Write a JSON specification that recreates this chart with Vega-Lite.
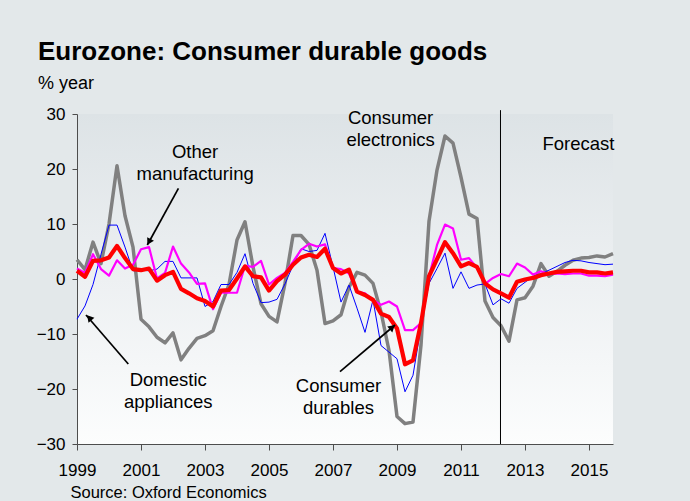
{
  "$schema": "https://vega.github.io/schema/vega-lite/v6.json",
  "width": 536,
  "height": 330,
  "autosize": {"type": "none"},
  "padding": {"left": 77, "top": 114, "right": 77, "bottom": 57},
  "background": "#e3e8ea",
  "config": {
    "view": {"stroke": null, "fill": {"gradient": "linear", "x1": 0, "y1": 0, "x2": 0, "y2": 1, "stops": [{"offset": 0, "color": "#dde3e6"}, {"offset": 0.5, "color": "#edf0f2"}, {"offset": 1, "color": "#fcfdfd"}]}},
    "font": "Liberation Sans",
    "axis": {"domainColor": "#4d4d4d", "tickColor": "#4d4d4d", "labelColor": "#000000", "labelFont": "Liberation Sans", "labelFontSize": 17, "grid": false, "domainWidth": 1, "tickWidth": 1, "labelOverlap": false, "labelFlush": false},
    "axisX": {"tickSize": 6, "labelPadding": 12, "titleFont": "Liberation Sans", "titleFontSize": 16.5, "titleFontWeight": "normal", "titleColor": "#000000", "titleAnchor": "start", "titleAlign": "left", "titleBaseline": "alphabetic", "titleX": -7, "titleY": 53},
    "axisY": {"tickSize": 5, "labelPadding": 7}
  },
  "title": {"text": "Eurozone: Consumer durable goods", "subtitle": "% year", "anchor": "start", "frame": "group", "dx": -39, "offset": 12, "font": "Liberation Sans", "fontSize": 26, "fontWeight": "bold", "color": "#000000", "subtitleFont": "Liberation Sans", "subtitleFontSize": 18, "subtitleColor": "#000000", "subtitlePadding": 10},
  "datasets": {
    "series": [
      {"t": 1999.00, "ce": 3.5, "da": -7.3, "om": 1.9, "cd": 1.5},
      {"t": 1999.25, "ce": 1.7, "da": -4.9, "om": 1.1, "cd": 0.4},
      {"t": 1999.50, "ce": 6.7, "da": -1.0, "om": 4.5, "cd": 3.3},
      {"t": 1999.75, "ce": 2.8, "da": 4.5, "om": 1.8, "cd": 3.4},
      {"t": 2000.00, "ce": 10.0, "da": 9.8, "om": 0.6, "cd": 3.9},
      {"t": 2000.25, "ce": 20.6, "da": 9.8, "om": 3.4, "cd": 6.0},
      {"t": 2000.50, "ce": 11.5, "da": 5.8, "om": 1.9, "cd": 3.8},
      {"t": 2000.75, "ce": 5.8, "da": 1.5, "om": 2.6, "cd": 1.8},
      {"t": 2001.00, "ce": -7.3, "da": 1.6, "om": 5.4, "cd": 1.6},
      {"t": 2001.25, "ce": -8.7, "da": 1.5, "om": 5.8, "cd": 1.9},
      {"t": 2001.50, "ce": -10.6, "da": 1.8, "om": 0.1, "cd": -0.3},
      {"t": 2001.75, "ce": -11.6, "da": 3.2, "om": 1.1, "cd": 0.7},
      {"t": 2002.00, "ce": -9.8, "da": 3.2, "om": 5.9, "cd": 1.3},
      {"t": 2002.25, "ce": -14.7, "da": 0.2, "om": 2.8, "cd": -1.8},
      {"t": 2002.50, "ce": -12.6, "da": 0.2, "om": 1.2, "cd": -2.6},
      {"t": 2002.75, "ce": -10.8, "da": 0.2, "om": -0.9, "cd": -3.5},
      {"t": 2003.00, "ce": -10.3, "da": -5.0, "om": -0.8, "cd": -4.0},
      {"t": 2003.25, "ce": -9.4, "da": -4.1, "om": -5.5, "cd": -5.0},
      {"t": 2003.50, "ce": -5.0, "da": -1.0, "om": -2.5, "cd": -2.1},
      {"t": 2003.75, "ce": -1.0, "da": -1.0, "om": -2.5, "cd": -2.0},
      {"t": 2004.00, "ce": 7.1, "da": 1.2, "om": -2.5, "cd": 0.1},
      {"t": 2004.25, "ce": 10.4, "da": 4.6, "om": 2.4, "cd": 2.3},
      {"t": 2004.50, "ce": 2.2, "da": -0.8, "om": 2.2, "cd": 0.5},
      {"t": 2004.75, "ce": -4.5, "da": -4.3, "om": 3.3, "cd": 0.3},
      {"t": 2005.00, "ce": -6.8, "da": -4.2, "om": -1.0, "cd": -2.1},
      {"t": 2005.25, "ce": -7.8, "da": -3.7, "om": 0.2, "cd": -0.4},
      {"t": 2005.50, "ce": -0.8, "da": -0.9, "om": 1.1, "cd": 0.8},
      {"t": 2005.75, "ce": 7.9, "da": 2.5, "om": 3.1, "cd": 2.6},
      {"t": 2006.00, "ce": 7.9, "da": 5.5, "om": 5.3, "cd": 3.9},
      {"t": 2006.25, "ce": 6.3, "da": 5.0, "om": 6.4, "cd": 4.4},
      {"t": 2006.50, "ce": 1.6, "da": 5.2, "om": 5.9, "cd": 4.0},
      {"t": 2006.75, "ce": -8.1, "da": 8.3, "om": 6.3, "cd": 5.5},
      {"t": 2007.00, "ce": -7.6, "da": 2.2, "om": 2.0, "cd": 2.0},
      {"t": 2007.25, "ce": -6.5, "da": -4.2, "om": 1.8, "cd": 1.0},
      {"t": 2007.50, "ce": -1.5, "da": -1.1, "om": 1.0, "cd": 1.7},
      {"t": 2007.75, "ce": 1.2, "da": -5.3, "om": -2.3, "cd": -2.3},
      {"t": 2008.00, "ce": 0.7, "da": -9.7, "om": -2.6, "cd": -2.9},
      {"t": 2008.25, "ce": -0.8, "da": -3.8, "om": -3.8, "cd": -3.8},
      {"t": 2008.50, "ce": -6.0, "da": -12.1, "om": -4.7, "cd": -6.3},
      {"t": 2008.75, "ce": -13.0, "da": -13.3, "om": -4.1, "cd": -6.9},
      {"t": 2009.00, "ce": -25.0, "da": -14.5, "om": -5.0, "cd": -9.0},
      {"t": 2009.25, "ce": -26.3, "da": -20.5, "om": -9.3, "cd": -15.5},
      {"t": 2009.50, "ce": -26.0, "da": -17.5, "om": -9.3, "cd": -14.8},
      {"t": 2009.75, "ce": -12.0, "da": -8.7, "om": -8.0, "cd": -8.0},
      {"t": 2010.00, "ce": 10.5, "da": -0.8, "om": 0.4, "cd": 0.5},
      {"t": 2010.25, "ce": 19.8, "da": 1.9, "om": 6.2, "cd": 3.6},
      {"t": 2010.50, "ce": 26.0, "da": 4.7, "om": 9.9, "cd": 6.7},
      {"t": 2010.75, "ce": 24.7, "da": -1.7, "om": 9.2, "cd": 4.7},
      {"t": 2011.00, "ce": 18.5, "da": 1.3, "om": 3.5, "cd": 2.3},
      {"t": 2011.25, "ce": 11.8, "da": -1.7, "om": 3.8, "cd": 2.9},
      {"t": 2011.50, "ce": 11.0, "da": -1.1, "om": 2.0, "cd": 2.2},
      {"t": 2011.75, "ce": -4.0, "da": -0.9, "om": -0.9, "cd": -0.8},
      {"t": 2012.00, "ce": -7.0, "da": -4.7, "om": 0.2, "cd": -1.9},
      {"t": 2012.25, "ce": -8.5, "da": -3.6, "om": 0.9, "cd": -2.6},
      {"t": 2012.50, "ce": -11.3, "da": -4.4, "om": 0.5, "cd": -3.4},
      {"t": 2012.75, "ce": -3.8, "da": -1.7, "om": 2.8, "cd": -0.5},
      {"t": 2013.00, "ce": -3.4, "da": -0.6, "om": 2.1, "cd": -0.1},
      {"t": 2013.25, "ce": -1.3, "da": 0.5, "om": 0.8, "cd": 0.2},
      {"t": 2013.50, "ce": 2.8, "da": 1.0, "om": 1.4, "cd": 0.7},
      {"t": 2013.75, "ce": 0.5, "da": 1.6, "om": 0.9, "cd": 1.0},
      {"t": 2014.00, "ce": 1.4, "da": 2.3, "om": 1.0, "cd": 1.3},
      {"t": 2014.25, "ce": 2.5, "da": 3.0, "om": 0.9, "cd": 1.4},
      {"t": 2014.50, "ce": 3.4, "da": 3.4, "om": 1.0, "cd": 1.5},
      {"t": 2014.75, "ce": 3.8, "da": 3.3, "om": 1.0, "cd": 1.5},
      {"t": 2015.00, "ce": 3.9, "da": 3.0, "om": 0.6, "cd": 1.2},
      {"t": 2015.25, "ce": 4.2, "da": 2.8, "om": 0.6, "cd": 1.2},
      {"t": 2015.50, "ce": 4.0, "da": 2.6, "om": 0.5, "cd": 1.0},
      {"t": 2015.75, "ce": 4.6, "da": 2.7, "om": 0.8, "cd": 1.2}
    ],
    "forecast": [
      {"t": 2012.234, "lo": -30, "hi": 30.7}
    ],
    "notes": [
      {"t": 2002.69, "v": 22.0, "label": "Other\nmanufacturing"},
      {"t": 2008.80, "v": 28.18, "label": "Consumer\nelectronics"},
      {"t": 2014.67, "v": 23.45, "label": "Forecast"},
      {"t": 2001.85, "v": -19.45, "label": "Domestic\nappliances"},
      {"t": 2007.17, "v": -20.49, "label": "Consumer\ndurables"}
    ],
    "arrows": [
      {"id": "om", "t": 2002.17, "v": 16.49, "t2": 2001.197, "v2": 6.18, "ht": 2001.249, "hv": 6.74},
      {"id": "da", "t": 2000.603, "v": -15.45, "t2": 1999.281, "v2": -6.545, "ht": 1999.384, "hv": -7.03},
      {"id": "cd", "t": 2007.219, "v": -16.85, "t2": 2008.938, "v2": -8.36, "ht": 2008.854, "hv": -8.78}
    ]
  },
  "layer": [
    {
      "data": {"name": "series"},
      "mark": {"type": "line", "color": "#808080", "strokeWidth": 3.5, "strokeJoin": "round"},
      "encoding": {
        "x": {"field": "t", "type": "quantitative", "title": "Source: Oxford Economics",
              "scale": {"domain": [1999, 2015.75], "nice": false, "zero": false},
              "axis": {"values": [1999, 2000, 2001, 2002, 2003, 2004, 2005, 2006, 2007, 2008, 2009, 2010, 2011, 2012, 2013, 2014, 2015], "format": "d", "labelExpr": "datum.value % 2 === 1 ? datum.label : ''"}},
        "y": {"field": "ce", "type": "quantitative", "title": null,
              "scale": {"domain": [-30, 30], "nice": false, "zero": false},
              "axis": {"values": [-30, -20, -10, 0, 10, 20, 30], "format": "d"}}
      }
    },
    {
      "mark": {"type": "rule", "color": "#3a3a3a", "strokeWidth": 1.5},
      "encoding": {"y": {"datum": 0, "type": "quantitative", "title": null}}
    },
    {
      "data": {"name": "forecast"},
      "mark": {"type": "rule", "color": "#000000", "strokeWidth": 1},
      "encoding": {
        "x": {"field": "t", "type": "quantitative", "title": "Source: Oxford Economics"},
        "y": {"field": "lo", "type": "quantitative", "title": null},
        "y2": {"field": "hi"}
      }
    },
    {
      "data": {"name": "series"},
      "mark": {"type": "line", "color": "#0000ff", "strokeWidth": 1},
      "encoding": {
        "x": {"field": "t", "type": "quantitative", "title": "Source: Oxford Economics"},
        "y": {"field": "da", "type": "quantitative", "title": null}
      }
    },
    {
      "data": {"name": "series"},
      "mark": {"type": "line", "color": "#ff00ff", "strokeWidth": 2.2, "strokeJoin": "round"},
      "encoding": {
        "x": {"field": "t", "type": "quantitative", "title": "Source: Oxford Economics"},
        "y": {"field": "om", "type": "quantitative", "title": null}
      }
    },
    {
      "data": {"name": "series"},
      "mark": {"type": "line", "color": "#ff0000", "strokeWidth": 4.2, "strokeJoin": "round"},
      "encoding": {
        "x": {"field": "t", "type": "quantitative", "title": "Source: Oxford Economics"},
        "y": {"field": "cd", "type": "quantitative", "title": null}
      }
    },
    {
      "data": {"name": "notes"},
      "mark": {"type": "text", "font": "Liberation Sans", "fontSize": 18.5, "align": "center", "baseline": "alphabetic", "lineBreak": "\n", "lineHeight": 22, "color": "#000000"},
      "encoding": {
        "x": {"field": "t", "type": "quantitative", "title": "Source: Oxford Economics"},
        "y": {"field": "v", "type": "quantitative", "title": null},
        "text": {"field": "label"}
      }
    },
    {
      "data": {"name": "arrows"},
      "mark": {"type": "rule", "color": "#000000", "strokeWidth": 1.7},
      "encoding": {
        "x": {"field": "t", "type": "quantitative", "title": "Source: Oxford Economics"},
        "y": {"field": "v", "type": "quantitative", "title": null},
        "x2": {"field": "t2"},
        "y2": {"field": "v2"}
      }
    },
    {
      "data": {"name": "arrows"},
      "transform": [{"filter": "datum.id === 'om'"}],
      "mark": {"type": "point", "shape": "triangle-up", "filled": true, "color": "#000000", "opacity": 1, "size": 60, "angle": 208.7},
      "encoding": {
        "x": {"field": "ht", "type": "quantitative", "title": "Source: Oxford Economics"},
        "y": {"field": "hv", "type": "quantitative", "title": null}
      }
    },
    {
      "data": {"name": "arrows"},
      "transform": [{"filter": "datum.id === 'da'"}],
      "mark": {"type": "point", "shape": "triangle-up", "filled": true, "color": "#000000", "opacity": 1, "size": 60, "angle": 319.2},
      "encoding": {
        "x": {"field": "ht", "type": "quantitative", "title": "Source: Oxford Economics"},
        "y": {"field": "hv", "type": "quantitative", "title": null}
      }
    },
    {
      "data": {"name": "arrows"},
      "transform": [{"filter": "datum.id === 'cd'"}],
      "mark": {"type": "point", "shape": "triangle-up", "filled": true, "color": "#000000", "opacity": 1, "size": 60, "angle": 49.7},
      "encoding": {
        "x": {"field": "ht", "type": "quantitative", "title": "Source: Oxford Economics"},
        "y": {"field": "hv", "type": "quantitative", "title": null}
      }
    }
  ]
}
